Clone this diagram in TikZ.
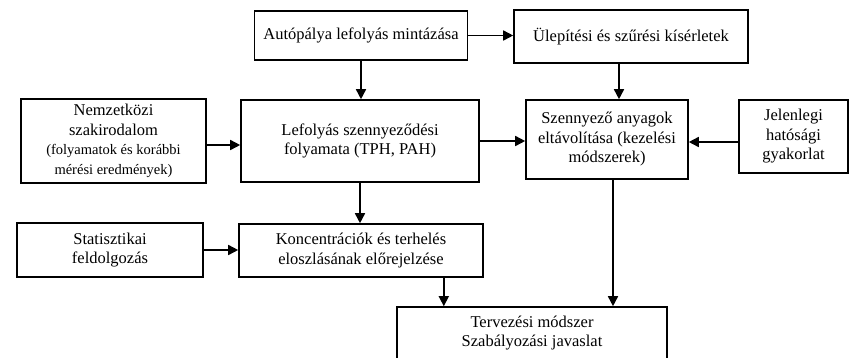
\documentclass[tikz,border=0pt]{standalone}
\usepackage{fontspec}
\setmainfont{Liberation Serif}
\usetikzlibrary{arrows.meta}
\begin{document}
\begin{tikzpicture}[x=1pt,y=-1pt,
  box/.style={draw,line width=1.6pt,align=center,inner sep=0pt,
    font=\fontsize{16.5}{19.5}\selectfont},
  arr/.style={line width=1.6pt,-{Triangle[length=10pt,width=10pt]}}]
\useasboundingbox (0,0) rectangle (849,357);
\node[box,minimum width=213pt,minimum height=49pt] (A) at (361,35.5) {Autópálya lefolyás mintázása};
\node[box,minimum width=234pt,minimum height=53pt] (B) at (631,36.5) {Ülepítési és szűrési kísérletek};
\node[box,minimum width=185pt,minimum height=84pt] (C) at (113.5,141) {Nemzetközi\\szakirodalom\\{\fontsize{14.5}{18}\selectfont(folyamatok és korábbi}\\{\fontsize{14.5}{18}\selectfont mérési eredmények)}};
\node[box,minimum width=238pt,minimum height=82pt] (D) at (360,141) {Lefolyás szennyeződési\\folyamata (TPH, PAH)};
\node[box,minimum width=162pt,minimum height=79pt] (E) at (607,139.5) {Szennyező anyagok\\eltávolítása (kezelési\\módszerek)};
\node[box,minimum width=109pt,minimum height=73pt] (F) at (793.5,136.5) {Jelenlegi\\hatósági\\gyakorlat};
\node[box,minimum width=186pt,minimum height=54pt] (G) at (110,250) {Statisztikai\\feldolgozás};
\node[box,minimum width=244pt,minimum height=53pt] (H) at (361,250.5) {Koncentrációk és terhelés\\eloszlásának előrejelzése};
\node[box,minimum width=270pt,minimum height=52pt] (I) at (532,333) {Tervezési módszer\\Szabályozási javaslat};
\draw[arr] (A.east) -- (A.east -| B.west);
\draw[arr] (A.south) -- (A.south |- D.north);
\draw[arr] ([xshift=-12pt]B.south) -- ([xshift=-12pt]B.south |- E.north);
\draw[arr] ([yshift=-4pt]C.east) -- ([yshift=-4pt]C.east -| D.west);
\draw[arr] (D.east) -- (D.east -| E.west);
\draw[arr] ([yshift=-5.5pt]F.west) -- ([yshift=-5.5pt]F.west -| E.east);
\draw[arr] (D.south) -- (D.south |- H.north);
\draw[arr] (G.east) -- (G.east -| H.west);
\draw[arr] ([xshift=-40pt]H.south east) -- ([xshift=-40pt]H.south east |- I.north);
\draw[arr] ([xshift=6pt]E.south) -- ([xshift=6pt]E.south |- I.north);
\end{tikzpicture}
\end{document}
